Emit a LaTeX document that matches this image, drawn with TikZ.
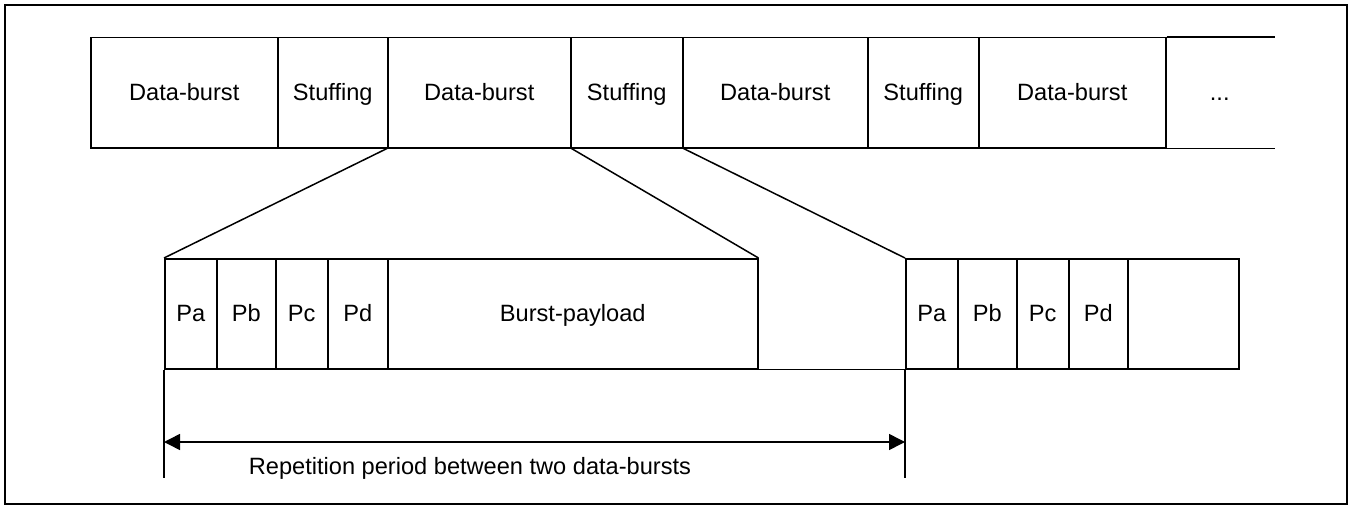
\documentclass[tikz,border=0pt]{standalone}
\usepackage{fontspec}
\setmainfont{Liberation Sans}
\usetikzlibrary{arrows.meta}

\tikzset{
  cell/.style={draw, line width=0.75pt, minimum height=55pt, inner sep=0pt,
    text height=10.2pt, text depth=2.4pt,
    anchor=north west, font=\fontsize{11.8}{14}\selectfont},
  rule/.style={line width=0.75pt},
}

\begin{document}
\begin{tikzpicture}[x=0.5pt,y=-0.5pt]
\useasboundingbox (0,0) rectangle (1353,508);
\draw[line width=1.1pt] (5,5) rectangle (1347,504);

% stream of bursts
\node[cell, minimum width=93.5pt] (db1) at (90,37) {Data-burst};
\node[cell, minimum width=55pt] (st1) at (277,37) {Stuffing};
\node[cell, minimum width=91.5pt] (db2) at (387,37) {Data-burst};
\node[cell, minimum width=56pt] (st2) at (570,37) {Stuffing};
\node[cell, minimum width=92.5pt] (db3) at (682,37) {Data-burst};
\node[cell, minimum width=55.5pt] (st3) at (867,37) {Stuffing};
\node[cell, minimum width=93.5pt] (db4) at (978,37) {Data-burst};
\node[cell, draw=none, minimum width=54pt] (more) at (1165,37) {...};
\draw[rule] (db4.north east) -- (more.north east);
\draw[rule] (db4.south east) -- (more.south east);

% first data-burst
\node[cell, minimum width=26pt] (pa1) at (164,258) {Pa};
\node[cell, minimum width=29.5pt] (pb1) at (216,258) {Pb};
\node[cell, minimum width=26pt] (pc1) at (275,258) {Pc};
\node[cell, minimum width=30pt] (pd1) at (327,258) {Pd};
\node[cell, minimum width=185pt] (pay) at (387,258) {Burst-payload};

% next data-burst
\node[cell, minimum width=26pt] (pa2) at (905,258) {Pa};
\node[cell, minimum width=29.5pt] (pb2) at (957,258) {Pb};
\node[cell, minimum width=26pt] (pc2) at (1016,258) {Pc};
\node[cell, minimum width=29.5pt] (pd2) at (1068,258) {Pd};
\node[cell, minimum width=55.5pt] (rest) at (1127,258) {};
\draw[rule] (pay.south east) -- (pa2.south west);

% zoom lines
\draw[rule] (db2.south west) -- (pa1.north west);
\draw[rule] (db2.south east) -- (pay.north east);
\draw[rule] (st2.south east) -- (pa2.north west);

% repetition period
\coordinate (tl) at (164,478);
\coordinate (tr) at (905,478);
\coordinate (al) at (164,442);
\coordinate (ar) at (905,442);
\draw[rule] (pa1.south west) -- (tl);
\draw[rule] (pa2.south west) -- (tr);
\draw[rule, {Triangle[length=8pt,width=8pt]}-{Triangle[length=8pt,width=8pt]}] (al) -- (ar);
\node[font=\fontsize{11.8}{14}\selectfont, text height=8.6pt, text depth=2.4pt] (per) at (470,468) {Repetition period between two data-bursts};
\end{tikzpicture}
\end{document}
